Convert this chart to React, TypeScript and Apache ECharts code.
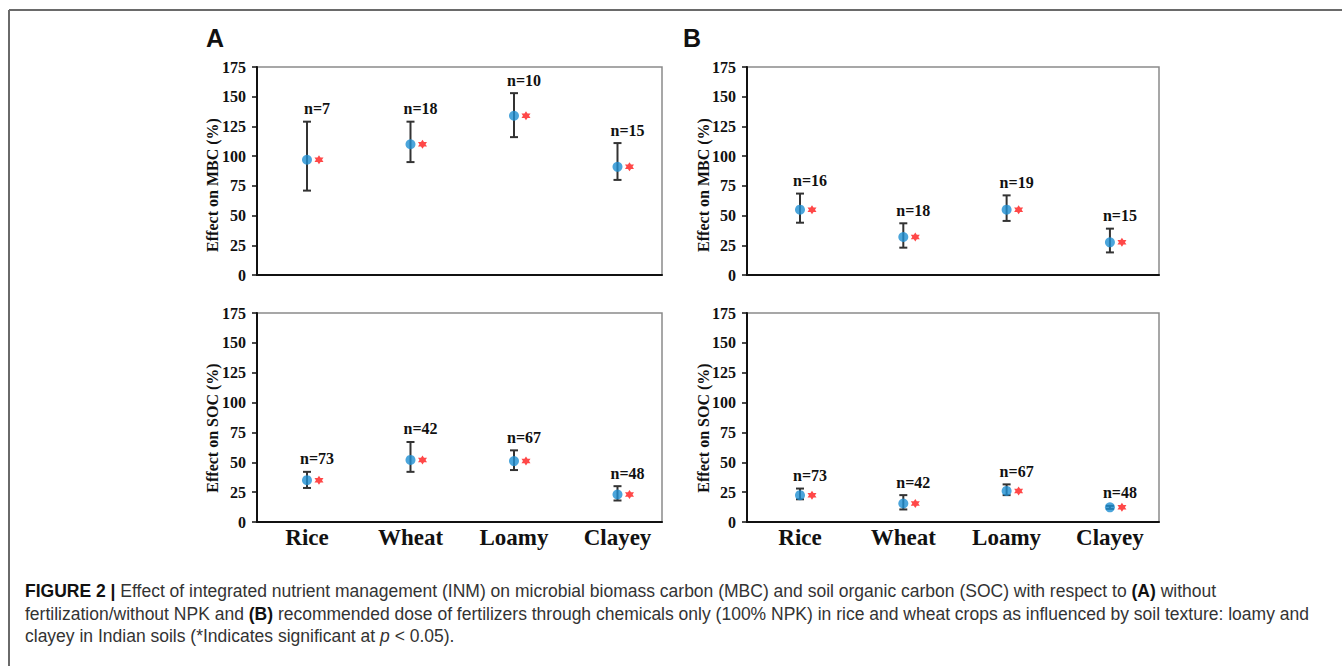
import React, { useEffect, useRef } from "react";
import * as echarts from "echarts";

// ---------- data ----------
const categories = ["Rice", "Wheat", "Loamy", "Clayey"];
const catPos = [1, 2, 3, 4];

const mbcA_mean = [97, 110, 134, 91];
const mbcA_low = [71, 95, 116, 80];
const mbcA_high = [129, 129, 153, 111];
const mbcA_n = ["n=7", "n=18", "n=10", "n=15"];

const mbcB_mean = [55, 32, 55, 27.5];
const mbcB_low = [44, 23, 45.5, 19];
const mbcB_high = [68.5, 43.5, 67, 39];
const mbcB_n = ["n=16", "n=18", "n=19", "n=15"];

const socA_mean = [35, 52, 51, 23];
const socA_low = [28.5, 42, 43.5, 18];
const socA_high = [42, 67, 60, 30];
const socA_n = ["n=73", "n=42", "n=67", "n=48"];

const socB_mean = [22.5, 15.5, 26, 12.3];
const socB_low = [19, 10.5, 22.5, 11];
const socB_high = [28, 22.5, 31.5, 13.5];
const socB_n = ["n=73", "n=42", "n=67", "n=48"];

const yMin = 0;
const yMax = 175;
const yStep = 25;

const SERIF = '"Liberation Serif", "Times New Roman", serif';
const SANS = '"Liberation Sans", Arial, sans-serif';
const STAR =
  "path://M0,-10 L2.9,-5 L8.66,-5 L5.8,0 L8.66,5 L2.9,5 L0,10 L-2.9,5 L-8.66,5 L-5.8,0 L-8.66,-5 L-2.9,-5 Z";

const panels = [
  { mean: mbcA_mean, low: mbcA_low, high: mbcA_high, n: mbcA_n, col: 0, row: 0 },
  { mean: mbcB_mean, low: mbcB_low, high: mbcB_high, n: mbcB_n, col: 1, row: 0 },
  { mean: socA_mean, low: socA_low, high: socA_high, n: socA_n, col: 0, row: 1 },
  { mean: socB_mean, low: socB_low, high: socB_high, n: socB_n, col: 1, row: 1 },
];

const colLayout = [
  { left: 257, width: 405, min: 0.517, max: 4.43 },
  { left: 747, width: 412, min: 0.487, max: 4.475 },
];
const rowLayout = [
  { top: 67, height: 208 },
  { top: 313, height: 209 },
];

export default function App() {
  const ref = useRef<HTMLDivElement>(null);

  useEffect(() => {
    if (!ref.current) return;
    const chart = echarts.init(ref.current, null, { renderer: "svg" });

    const grid: any[] = [];
    const xAxis: any[] = [];
    const yAxis: any[] = [];
    const series: any[] = [];

    panels.forEach((p, i) => {
      const c = colLayout[p.col];
      const r = rowLayout[p.row];
      grid.push({
        left: c.left,
        width: c.width,
        top: r.top,
        height: r.height,
        show: true,
        borderColor: "#8a8a8a",
        borderWidth: 1.5,
        backgroundColor: "transparent",
      });
      xAxis.push({
        type: "value",
        gridIndex: i,
        min: c.min,
        max: c.max,
        axisLine: { show: true, onZero: false, lineStyle: { color: "#111", width: 2 } },
        axisTick: { show: false },
        splitLine: { show: false },
        axisLabel: {
          show: p.row === 1,
          customValues: catPos,
          formatter: (v: number) => categories[Math.round(v) - 1] ?? "",
          fontFamily: SERIF,
          fontWeight: "bold",
          fontSize: 23,
          color: "#111",
          margin: 4,
        },
      });
      yAxis.push({
        type: "value",
        gridIndex: i,
        min: yMin,
        max: yMax,
        interval: yStep,
        axisLine: { show: true, lineStyle: { color: "#111", width: 2 } },
        axisTick: { show: true, inside: false, length: 5, lineStyle: { color: "#111", width: 1.5 } },
        splitLine: { show: false },
        axisLabel: {
          fontFamily: SERIF,
          fontWeight: "bold",
          fontSize: 16,
          color: "#111",
          margin: 11,
        },
      });

      const nLabels = p.n;
      series.push({
        type: "custom",
        xAxisIndex: i,
        yAxisIndex: i,
        encode: { x: 0, y: [1, 2] },
        data: catPos.map((x, k) => [x, p.low[k], p.high[k]]),
        renderItem: (params: any, api: any) => {
          const x = api.value(0);
          const top = api.coord([x, api.value(2)]);
          const bot = api.coord([x, api.value(1)]);
          const st = { stroke: "#333", lineWidth: 2 };
          return {
            type: "group",
            children: [
              { type: "line", shape: { x1: top[0], y1: top[1], x2: bot[0], y2: bot[1] }, style: st },
              { type: "line", shape: { x1: top[0] - 4, y1: top[1], x2: top[0] + 4, y2: top[1] }, style: st },
              { type: "line", shape: { x1: bot[0] - 4, y1: bot[1], x2: bot[0] + 4, y2: bot[1] }, style: st },
              {
                type: "text",
                x: top[0] + 10,
                y: top[1] - 13,
                style: {
                  text: nLabels[params.dataIndex],
                  fill: "#111",
                  font: `bold 16px ${SERIF}`,
                  align: "center",
                  verticalAlign: "middle",
                },
              },
            ],
          };
        },
        z: 2,
      });
      series.push({
        type: "scatter",
        xAxisIndex: i,
        yAxisIndex: i,
        symbol: "circle",
        symbolSize: 10,
        itemStyle: { color: "#1e8fd2" },
        data: catPos.map((x, k) => [x, p.mean[k]]),
        z: 3,
      });
      series.push({
        type: "scatter",
        xAxisIndex: i,
        yAxisIndex: i,
        symbol: STAR,
        symbolSize: 9,
        symbolOffset: [12, 0],
        itemStyle: { color: "#ff1a1a" },
        data: catPos.map((x, k) => [x, p.mean[k]]),
        z: 3,
      });
    });

    const yNames = [
      { text: "Effect on MBC (%)", x: 212, y: 185 },
      { text: "Effect on MBC (%)", x: 703, y: 185 },
      { text: "Effect on SOC (%)", x: 212, y: 428 },
      { text: "Effect on SOC (%)", x: 703, y: 428 },
    ];

    const CAP = 17.5;
    const captionRich = {
      b: { fontFamily: SANS, fontWeight: "bold", fontSize: CAP, fill: "#111", color: "#111" },
      i: { fontFamily: SANS, fontStyle: "italic", fontSize: CAP, fill: "#333", color: "#333" },
    };
    const captionLines = [
      "{b|FIGURE 2 |} Effect of integrated nutrient management (INM) on microbial biomass carbon (MBC) and soil organic carbon (SOC) with respect to {b|(A)} without",
      "fertilization/without NPK and {b|(B)} recommended dose of fertilizers through chemicals only (100% NPK) in rice and wheat crops as influenced by soil texture: loamy and",
      "clayey in Indian soils (*Indicates significant at {i|p} < 0.05).",
    ];

    const graphic: any[] = [
      { type: "line", shape: { x1: 9, y1: 10, x2: 1342, y2: 10 }, style: { stroke: "#6a6a6a", lineWidth: 2 } },
      { type: "line", shape: { x1: 9, y1: 10, x2: 9, y2: 666 }, style: { stroke: "#6a6a6a", lineWidth: 2 } },
      {
        type: "text",
        x: 215,
        y: 38,
        style: { text: "A", font: `bold 25px ${SANS}`, fill: "#111", align: "center", verticalAlign: "middle" },
      },
      {
        type: "text",
        x: 692,
        y: 38,
        style: { text: "B", font: `bold 25px ${SANS}`, fill: "#111", align: "center", verticalAlign: "middle" },
      },
      ...yNames.map((n) => ({
        type: "text",
        x: n.x,
        y: n.y,
        rotation: Math.PI / 2,
        style: {
          text: n.text,
          font: `bold 16px ${SERIF}`,
          fill: "#111",
          align: "center",
          verticalAlign: "middle",
        },
      })),
      ...captionLines.map((t, k) => ({
        type: "text",
        x: 25,
        y: 591 + k * 22.5,
        style: {
          text: t,
          font: `${CAP}px ${SANS}`,
          fill: "#333",
          align: "left",
          verticalAlign: "middle",
          rich: captionRich,
        },
      })),
    ];

    chart.setOption({
      animation: false,
      backgroundColor: "#ffffff",
      grid,
      xAxis,
      yAxis,
      series,
      graphic,
    });

    return () => chart.dispose();
  }, []);

  return (
    <div
      ref={ref}
      style={{ position: "absolute", left: 0, top: 0, width: 1342, height: 666, background: "#fff" }}
    />
  );
}
